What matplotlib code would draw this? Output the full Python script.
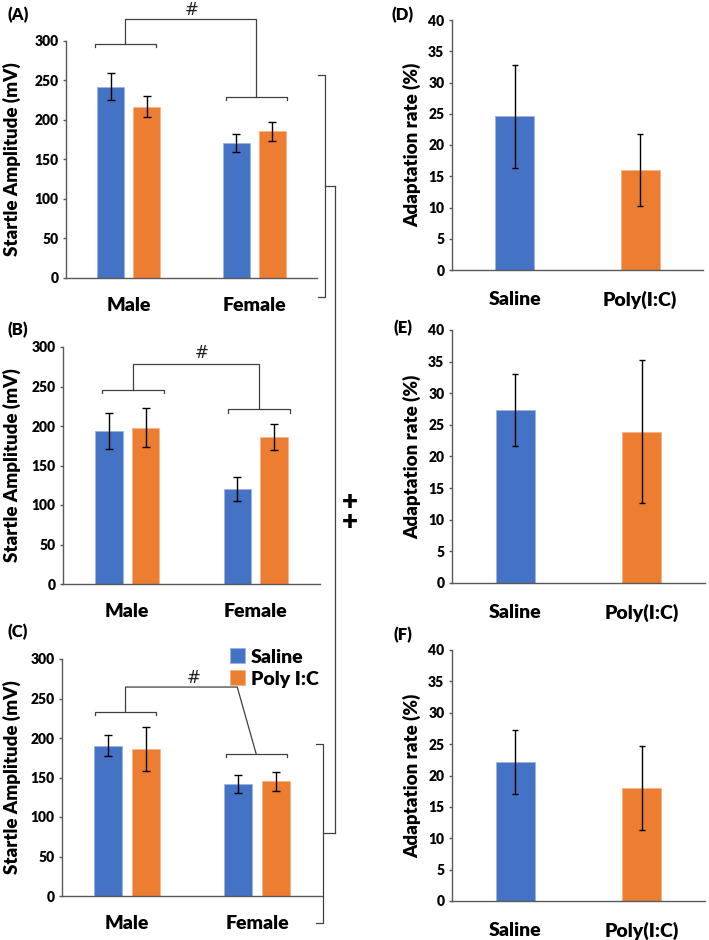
import numpy as np
import matplotlib.pyplot as plt
from matplotlib.lines import Line2D

plt.rcParams['font.family'] = ['Lato', 'DejaVu Sans']
plt.rcParams['font.weight'] = 'heavy'
plt.rcParams['axes.labelweight'] = 'heavy'

W, H = 709, 940

sexes = ["Male", "Female"]
groups = ["Saline", "Poly I:C"]
groups_right = ["Saline", "Poly(I:C)"]

# startle amplitude (mV): Male, Female
a_saline = [242, 171]
a_saline_err = [17, 11]
a_poly = [217, 186]
a_poly_err = [13, 12]

b_saline = [194, 120]
b_saline_err = [22.5, 15]
b_poly = [198, 186]
b_poly_err = [24.5, 16]

c_saline = [190.5, 142]
c_saline_err = [12.7, 11.4]
c_poly = [186, 145]
c_poly_err = [27.5, 12]

# adaptation rate (%): Saline, Poly(I:C)
d_vals = [24.6, 16.0]
d_err = [8.2, 5.7]
e_vals = [27.4, 23.9]
e_err = [5.7, 11.3]
f_vals = [22.1, 18.0]
f_err = [5.1, 6.7]

BLUE = "#4472C4"
ORANGE = "#ED7D31"
AXIS_COL = "#595959"
LINE_COL = "#404040"

fig = plt.figure(figsize=(W / 100, H / 100), dpi=100)


def px_axes(left, top, right, bottom):
    ax = fig.add_axes([left / W, 1 - bottom / H, (right - left) / W, (bottom - top) / H])
    ax.px_left, ax.px_width = left, right - left
    return ax


def style_axes(ax, ymax, step, labels, ylabel, xpad, label_right):
    for s in ["top", "right"]:
        ax.spines[s].set_visible(False)
    for s in ["left", "bottom"]:
        ax.spines[s].set_color(AXIS_COL)
        ax.spines[s].set_linewidth(1.0)
    ax.set_xlim(0, 2)
    ax.set_ylim(0, ymax)
    yt = np.arange(0, ymax + step / 2, step)
    ax.set_yticks(yt)
    ax.set_yticklabels([f"{v:g}" for v in yt], fontsize=10, fontweight="heavy")
    ax.set_xticks([0.5, 1.5])
    ax.set_xticklabels(labels, fontsize=14)
    ax.tick_params(axis="x", length=0, pad=xpad)
    ax.tick_params(axis="y", length=2.5, width=1, color=AXIS_COL, pad=3)
    ax.set_ylabel(ylabel, fontsize=13.5)
    ax.yaxis.set_label_coords((label_right - ax.px_left) / ax.px_width, 0.5)


def startle_panel(ax, saline, saline_err, poly, poly_err):
    x = np.array([0.5, 1.5])
    eb = dict(ecolor="black", elinewidth=1, capsize=3, capthick=1)
    b1 = ax.bar(x - 0.143, saline, 0.215, yerr=saline_err, color=BLUE,
                edgecolor="#9DB4E0", linewidth=0.6, error_kw=eb, label=groups[0])
    b2 = ax.bar(x + 0.143, poly, 0.215, yerr=poly_err, color=ORANGE,
                edgecolor="#F6B48A", linewidth=0.6, error_kw=eb, label=groups[1])
    style_axes(ax, 300, 50, sexes, "Startle Amplitude (mV)", 14, 21)
    return b1, b2


def adapt_panel(ax, vals, err):
    x = np.array([0.5, 1.5])
    eb = dict(ecolor="black", elinewidth=1, capsize=2.5, capthick=1)
    ax.bar(x, vals, 0.31, yerr=err, color=[BLUE, ORANGE],
           edgecolor=["#9DB4E0", "#F6B48A"], linewidth=0.6, error_kw=eb)
    style_axes(ax, 40, 5, groups_right, "Adaptation rate (%)", 15, 421)


def sig_bracket(ax, male, female, top, hash_xy, top_end=None, tick=4):
    kw = dict(color=LINE_COL, lw=0.9, clip_on=False)
    for x0, x1, y in (male, female):
        ax.plot([x0, x0, x1, x1], [y - tick, y, y, y - tick], **kw)
    m_mid = (male[0] + male[1]) / 2
    f_mid = (female[0] + female[1]) / 2
    if top_end is None:
        top_end = f_mid
    ax.plot([m_mid, m_mid, top_end, f_mid], [male[2], top, top, female[2]], **kw)
    ax.text(hash_xy[0], hash_xy[1], "#", fontsize=12, ha="center", va="center",
            family="DejaVu Sans", fontweight="normal", color="#222222")


axA = px_axes(66, 41, 317, 278)
startle_panel(axA, a_saline, a_saline_err, a_poly, a_poly_err)
sig_bracket(axA, (0.231, 0.717, 295.8), (1.273, 1.759, 229.5), 327.5, (1.0, 339))

axB = px_axes(63, 347, 320, 584)
startle_panel(axB, b_saline, b_saline_err, b_poly, b_poly_err)
sig_bracket(axB, (0.30, 0.786, 246), (1.284, 1.766, 221), 278, (1.08, 292))

axC = px_axes(62, 659, 322, 896)
h1, h2 = startle_panel(axC, c_saline, c_saline_err, c_poly, c_poly_err)
sig_bracket(axC, (0.254, 0.723, 232.8), (1.259, 1.728, 180), 264.5, (1.015, 276), top_end=1.348)
axC.legend(handles=[h1, h2], loc="upper left", bbox_to_anchor=(0.645, 1.045),
           frameon=False, prop=dict(weight="heavy", size=14),
           handlelength=0.8, handleheight=0.8, handletextpad=0.3,
           labelspacing=0.25, borderpad=0, borderaxespad=0)

axD = px_axes(452, 20, 703, 270)
adapt_panel(axD, d_vals, d_err)
axE = px_axes(452, 330, 705, 583)
adapt_panel(axE, e_vals, e_err)
axF = px_axes(452, 650, 705, 901)
adapt_panel(axF, f_vals, f_err)


# right-side brackets linking panels A and C
def fig_line(xs, ys):
    fig.add_artist(Line2D([x / W for x in xs], [1 - y / H for y in ys],
                          color=LINE_COL, lw=0.9))


fig_line([318, 325, 325, 318], [75, 75, 297, 297])
fig_line([325, 335], [186, 186])
fig_line([316, 323, 323, 316], [744, 744, 923, 923])
fig_line([323, 335], [833, 833])
fig_line([335, 335], [186, 833])
fig.text(350 / W, 1 - 512 / H, "+\n+", fontsize=20, linespacing=0.75,
         ha="center", va="center")

for lab, xx, yy in [("(A)", 18, 15), ("(B)", 18, 330), ("(C)", 18, 632),
                    ("(D)", 403, 15), ("(E)", 403, 328), ("(F)", 403, 635)]:
    fig.text(xx / W, 1 - yy / H, lab, fontsize=12, ha="center", va="center")

fig.savefig("out.png", dpi=100)
